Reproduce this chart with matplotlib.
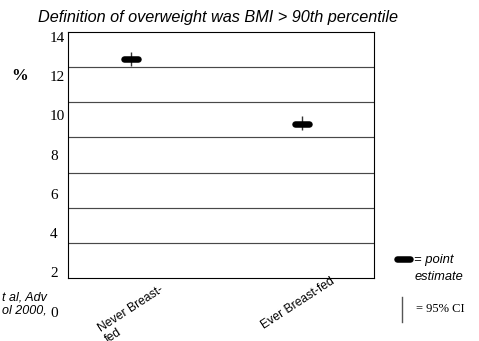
import matplotlib
matplotlib.use("Agg")
import matplotlib.pyplot as plt
from matplotlib.lines import Line2D
from matplotlib.markers import MarkerStyle
from matplotlib.transforms import ScaledTranslation
import numpy as np

# Datos (prevalencia de sobrepeso, %)
categories = ["Never Breast-\nfed", "Ever Breast-fed"]
estimate = np.array([12.46, 8.76])
ci_low = np.array([12.08, 8.42])
ci_high = np.array([12.88, 9.22])
grid_values = [2, 4, 6, 8, 10, 12]
label_values = [0, 2, 4, 6, 8, 10, 12, 14]

W, H = 479, 341
SANS = "Liberation Sans"
SERIF = "Liberation Serif"


def px(x, y):
    """Pixel (desde arriba a la izquierda) -> fracción de figura."""
    return x / W, 1 - y / H


fig = plt.figure(figsize=(W / 100, H / 100), dpi=100)

# Área de gráfico principal
ax = fig.add_axes([67.7 / W, (H - 278) / H, (374.3 - 67.7) / W, (278 - 32) / H])
xpos = np.arange(len(categories))
ax.set_xlim(-0.375, 1.428)
ax.set_ylim(0, 14)
ax.set_yticks(grid_values)
ax.yaxis.grid(True, color="#484848", linewidth=0.85)
ax.tick_params(axis="y", left=False, labelleft=False)
for s in ax.spines.values():
    s.set_color("black")
    s.set_linewidth(0.8)

ax.errorbar(xpos, estimate, yerr=[estimate - ci_low, ci_high - estimate],
            fmt="none", ecolor="#333333", elinewidth=1.0, capsize=0, zorder=3)
ax.plot(xpos, estimate, linestyle="none",
        marker=MarkerStyle("_", capstyle="round"), markersize=10.4,
        markeredgewidth=4.7, color="black", zorder=4)

ax.set_xticks(xpos)
ax.set_xticklabels(categories, rotation=33, fontsize=8.7, family=SANS,
                   ha="center", va="top", multialignment="left")
ax.tick_params(axis="x", length=0, pad=-2.2)
# desplazamiento fino de cada etiqueta (en puntos), como en la diapositiva
label_offsets = [(2.0, -6.0), (-2.5, 0.0)]
for lbl, (dx, dy) in zip(ax.get_xticklabels(), label_offsets):
    lbl.set_transform(lbl.get_transform()
                      + ScaledTranslation(dx / 72, dy / 72, fig.dpi_scale_trans))

# Eje de etiquetas del eje Y (desalineado respecto a la grilla, como el original)
ax_lab = fig.add_axes([50 / W, (H - 311.7) / H, 0.01, 275 / H])
ax_lab.set_ylim(0, 14)
ax_lab.set_yticks(label_values)
ax_lab.set_yticklabels([str(v) for v in label_values], fontsize=11, family=SERIF)
ax_lab.tick_params(axis="y", length=0, pad=0)
for t in ax_lab.get_yticklabels():
    t.set_horizontalalignment("left")
ax_lab.set_xticks([])
ax_lab.patch.set_visible(False)
for s in ax_lab.spines.values():
    s.set_visible(False)

fig.text(*px(20, 76.5), "%", fontsize=12, family=SERIF, fontweight="bold",
         ha="center", va="center")

fig.text(*px(218.5, 17.5), "Definition of overweight was BMI > 90th percentile",
         fontsize=11.7, family=SANS, style="italic", ha="center", va="center")

fig.text(*px(47, 304), "t al, Adv\nol 2000,", fontsize=9, family=SANS,
         style="italic", ha="right", va="center", multialignment="right",
         linespacing=1.15)

# Leyenda manual
x0, y0 = px(396.5, 259.3)
x1, _ = px(409.5, 259.3)
fig.add_artist(Line2D([x0, x1], [y0, y0], transform=fig.transFigure,
                      color="black", linewidth=4.7, solid_capstyle="round"))
vx, vy0 = px(402.3, 296.7)
_, vy1 = px(402.3, 321.7)
fig.add_artist(Line2D([vx, vx], [vy0, vy1], transform=fig.transFigure,
                      color="#555555", linewidth=1.0))
fig.text(*px(413.5, 260), "= point", fontsize=9.4, family=SANS, style="italic",
         ha="left", va="center")
fig.text(*px(415, 276.5), "estimate", fontsize=9.3, family=SANS, style="italic",
         ha="left", va="center")
fig.text(*px(416, 308.5), "= 95% CI", fontsize=9, family=SERIF,
         ha="left", va="center")

fig.savefig("out.png", dpi=100)
plt.close(fig)
